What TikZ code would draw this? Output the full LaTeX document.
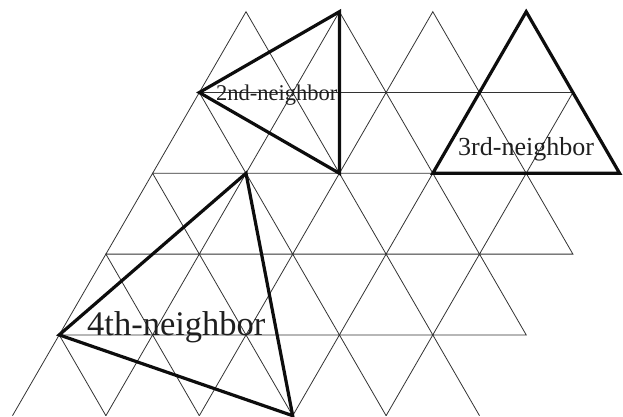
\documentclass[tikz,border=0pt]{standalone}
\usepackage{fontspec}
\setmainfont{Liberation Serif}
\begin{document}
\begin{tikzpicture}[x=1pt,y=1pt,
  latline/.style={draw=black!80,line width=0.8pt},
  bold/.style={draw=black!95,line width=3.2pt,line join=miter},
  lbl/.style={anchor=base west,inner sep=0pt,text=black!88}]
\useasboundingbox (0,0) rectangle (623,416);
\foreach \r in {0,...,5}{
  \foreach \i in {0,...,5}{
    \coordinate (v-\r-\i) at ({246-46.7*\r+93.4*\i},{404.3-80.8*\r});
  }
}
% upward triangles
\foreach \r/\n in {0/3,1/4,2/4,3/4}{
  \foreach \i in {0,...,\n}{
    \pgfmathtruncatemacro\rr{\r+1}
    \pgfmathtruncatemacro\ii{\i+1}
    \draw[latline] (v-\rr-\i) -- (v-\r-\i) -- (v-\rr-\ii) -- cycle;
  }
}
\foreach \i in {0,...,4}{
  \pgfmathtruncatemacro\ii{\i+1}
  \draw[latline] (v-5-\i) -- (v-4-\i) -- (v-5-\ii);
}
% highlighted neighbour triangles
\draw[bold] (v-0-1) -- (v-1-0) -- (v-2-2) -- cycle;
\draw[bold] (v-0-3) -- (v-2-3) -- (v-2-5) -- cycle;
\draw[bold] (v-2-1) -- (v-4-0) -- (v-5-3) -- cycle;
% labels
\node[lbl,font=\fontsize{22.5}{27}\selectfont] (l2) at (216,316) {2nd-neighbor};
\node[lbl,font=\fontsize{26}{31}\selectfont] (l3) at (458,261) {3rd-neighbor};
\node[lbl,font=\fontsize{34.5}{41}\selectfont] (l4) at (87,81) {4th-neighbor};
\end{tikzpicture}
\end{document}
